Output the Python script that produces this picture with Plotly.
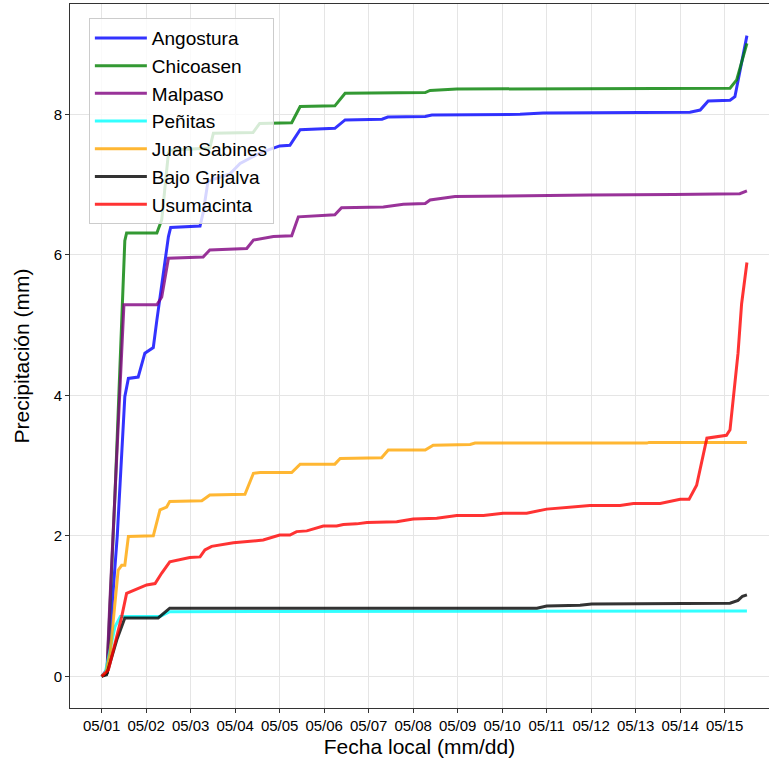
import pandas as pd
import plotly.graph_objects as go

# ---- data (days since 05/01 00:00, cumulative precipitation in mm) ----
angostura_t = [0, 0.12, 0.35, 0.52, 0.6, 0.82, 0.97, 1.16, 1.24, 1.5, 1.55, 2.21, 2.28, 2.39, 2.88,
               3.11, 3.56, 4.0, 4.23, 4.46, 5.24, 5.47, 6.3, 6.43, 7.27, 7.42, 9.4, 9.92, 13.22, 13.45,
               13.63, 14.12, 14.23, 14.3, 14.5]
angostura_mm = [0, 0.05, 2.0, 3.98, 4.24, 4.26, 4.6, 4.68, 5.07, 6.26, 6.39, 6.41, 6.6, 7.05, 7.15,
                7.3, 7.45, 7.55, 7.56, 7.78, 7.8, 7.92, 7.93, 7.96, 7.97, 7.99, 8.0, 8.02, 8.03, 8.06,
                8.19, 8.2, 8.25, 8.49, 9.12]

chicoasen_t = [0, 0.12, 0.3, 0.45, 0.52, 0.56, 1.24, 1.35, 1.5, 1.53, 2.43, 2.51, 3.4, 3.55, 4.27,
               4.46, 5.24, 5.47, 7.27, 7.38, 7.98, 14.12, 14.27, 14.5]
chicoasen_mm = [0, 0.05, 2.6, 4.9, 6.2, 6.31, 6.31, 6.5, 7.45, 7.49, 7.52, 7.73, 7.74, 7.87, 7.88,
                8.11, 8.12, 8.3, 8.31, 8.34, 8.36, 8.37, 8.49, 9.01]

malpaso_t = [0, 0.12, 0.18, 0.48, 0.5, 1.24, 1.35, 1.5, 2.28, 2.43, 3.26, 3.41, 3.86, 4.27, 4.42,
             5.24, 5.39, 6.33, 6.78, 7.27, 7.38, 7.94, 8.95, 10.97, 12.85, 14.34, 14.5]
malpaso_mm = [0, 0.1, 1.0, 5.1, 5.29, 5.29, 5.4, 5.95, 5.97, 6.07, 6.09, 6.21, 6.26, 6.27, 6.54,
              6.57, 6.67, 6.68, 6.72, 6.73, 6.78, 6.83, 6.84, 6.85, 6.86, 6.87, 6.91]

penitas_t = [0, 0.08, 0.3, 0.42, 1.31, 1.53, 14.5]
penitas_mm = [0, 0.05, 0.71, 0.85, 0.85, 0.92, 0.93]

bajo_t = [0, 0.11, 0.34, 0.52, 1.27, 1.53, 9.78, 10.0, 10.75, 11.01, 14.12, 14.3, 14.4, 14.5]
bajo_mm = [0, 0.02, 0.52, 0.83, 0.83, 0.97, 0.97, 1.0, 1.01, 1.03, 1.04, 1.08, 1.14, 1.16]

sabines_t = [0, 0.1, 0.19, 0.37, 0.45, 0.52, 0.6, 1.16, 1.31, 1.46, 1.53, 2.25, 2.43, 3.22, 3.41,
             3.56, 4.27, 4.46, 5.24, 5.36, 6.29, 6.44, 7.27, 7.45, 8.28, 8.39, 12.25, 12.3, 14.5]
sabines_mm = [0, 0.05, 0.33, 1.51, 1.58, 1.58, 1.99, 2.0, 2.37, 2.41, 2.49, 2.5, 2.58, 2.59, 2.89,
              2.9, 2.9, 3.02, 3.02, 3.1, 3.11, 3.22, 3.22, 3.29, 3.3, 3.32, 3.32, 3.33, 3.33]

usuma_t = [0, 0.15, 0.45, 0.56, 1.01, 1.2, 1.35, 1.53, 1.98, 2.21, 2.32, 2.47, 2.96, 3.26, 3.63,
           4.0, 4.23, 4.38, 4.61, 4.98, 5.28, 5.43, 5.73, 5.96, 6.63, 7.0, 7.53, 7.98, 8.58, 9.02,
           9.55, 10.0, 10.67, 10.97, 11.65, 11.95, 12.55, 13.0, 13.2, 13.37, 13.6, 14.04, 14.12,
           14.19, 14.3, 14.38, 14.5]
usuma_mm = [0, 0.09, 0.85, 1.18, 1.3, 1.32, 1.47, 1.63, 1.69, 1.7, 1.8, 1.85, 1.9, 1.92, 1.94,
            2.01, 2.01, 2.06, 2.07, 2.14, 2.14, 2.16, 2.17, 2.19, 2.2, 2.24, 2.25, 2.29, 2.29, 2.32,
            2.32, 2.38, 2.41, 2.43, 2.43, 2.46, 2.46, 2.52, 2.52, 2.72, 3.39, 3.43, 3.51,
            3.94, 4.6, 5.3, 5.89]

names = ["Angostura", "Chicoasen", "Malpaso", "Peñitas", "Juan Sabines", "Bajo Grijalva", "Usumacinta"]
series_t = [angostura_t, chicoasen_t, malpaso_t, penitas_t, sabines_t, bajo_t, usuma_t]
series_mm = [angostura_mm, chicoasen_mm, malpaso_mm, penitas_mm, sabines_mm, bajo_mm, usuma_mm]
colors = ["rgba(0,0,255,0.8)", "rgba(0,128,0,0.8)", "rgba(128,0,128,0.8)", "rgba(0,255,255,0.8)",
          "rgba(255,165,0,0.8)", "rgba(0,0,0,0.8)", "rgba(255,0,0,0.8)"]

base = pd.Timestamp("2024-05-01")

fig = go.Figure()
for name, t, mm, c in zip(names, series_t, series_mm, colors):
    x = base + pd.to_timedelta(t, unit="D")
    fig.add_trace(go.Scatter(x=x, y=mm, mode="lines", name=name,
                             line=dict(color=c, width=3)))

FONT = "Liberation Sans, Arial, Helvetica, sans-serif"
xr = [base + pd.Timedelta(days=-0.712), base + pd.Timedelta(days=14.996)]

fig.update_layout(
    width=769, height=761,
    margin=dict(l=70, r=0, t=4, b=53, autoexpand=False),
    paper_bgcolor="white", plot_bgcolor="white",
    font=dict(family=FONT, color="black"),
    showlegend=True,
    legend=dict(x=0.027, y=0.98, xanchor="left", yanchor="top",
                bgcolor="rgba(255,255,255,0.8)", bordercolor="#cccccc", borderwidth=1,
                font=dict(size=19, family=FONT), itemwidth=52, tracegroupgap=0),
)
fig.update_xaxes(
    type="date", range=[str(xr[0]), str(xr[1])], automargin=False,
    tick0=str(base), dtick=86400000, tickformat="%m/%d",
    showgrid=True, gridcolor="#e5e5e5", gridwidth=1,
    showline=True, linecolor="#333333", linewidth=1, mirror=True,
    ticks="outside", ticklen=4, tickcolor="#333333",
    tickfont=dict(size=15, family=FONT),
    title=dict(text="Fecha local (mm/dd)", font=dict(size=21, family=FONT), standoff=6),
    zeroline=False,
)
fig.update_yaxes(
    range=[-0.451, 9.57], tickvals=[0, 2, 4, 6, 8], automargin=False,
    showgrid=True, gridcolor="#e5e5e5", gridwidth=1,
    showline=True, linecolor="#333333", linewidth=1, mirror=False,
    ticks="outside", ticklen=4, tickcolor="#333333",
    tickfont=dict(size=15, family=FONT),
    title=dict(text="Precipitación (mm)", font=dict(size=21, family=FONT), standoff=18),
    zeroline=False,
)

fig.write_html("out.html", config={"displayModeBar": False},
               post_script="document.body.style.margin='0px';document.body.style.overflow='hidden';")
